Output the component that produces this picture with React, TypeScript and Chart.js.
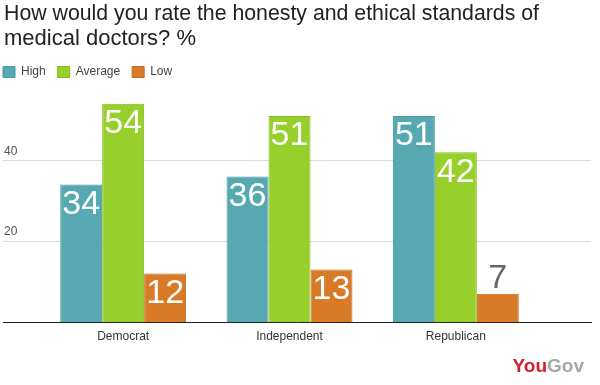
import React, { useEffect, useRef } from "react";
import { Chart, registerables } from "chart.js";

Chart.register(...registerables);

const titleLines = [
  "How would you rate the honesty and ethical standards of",
  "medical doctors? %",
];
const categories = ["Democrat", "Independent", "Republican"];
const seriesNames = ["High", "Average", "Low"];
const highValues = [34, 36, 51];
const averageValues = [54, 51, 42];
const lowValues = [12, 13, 7];
const yTickValues = [20, 40];
const yMax = 57.9;

const FONT = "'Liberation Sans', Arial, sans-serif";

const gridPlugin = {
  id: "fullGrid",
  afterLayout(chart: any) {
    if (chart.legend) chart.legend.left -= 13;
  },
  beforeDatasetsDraw(chart: any) {
    const { ctx } = chart;
    const y = chart.scales.y;
    ctx.save();
    ctx.strokeStyle = "#dcdcdc";
    ctx.lineWidth = 1;
    yTickValues.forEach((v) => {
      const py = Math.round(y.getPixelForValue(v)) + 0.5;
      ctx.beginPath();
      ctx.moveTo(3, py);
      ctx.lineTo(591, py);
      ctx.stroke();
    });
    ctx.restore();
  },
  afterDatasetsDraw(chart: any) {
    const { ctx } = chart;
    const y = chart.scales.y;
    const py = Math.round(y.getPixelForValue(0)) + 0.5;
    ctx.save();
    ctx.strokeStyle = "#222";
    ctx.lineWidth = 1;
    ctx.beginPath();
    ctx.moveTo(3, py);
    ctx.lineTo(592, py);
    ctx.stroke();

    // value labels
    ctx.font = `34px ${FONT}`;
    ctx.textAlign = "center";
    ctx.textBaseline = "alphabetic";
    chart.data.datasets.forEach((ds: any, di: number) => {
      const meta = chart.getDatasetMeta(di);
      meta.data.forEach((bar: any, i: number) => {
        const v = ds.data[i];
        const h = bar.base - bar.y;
        if (h >= 40) {
          ctx.fillStyle = "#ffffff";
          ctx.fillText(String(v), bar.x, bar.y + 29.5);
        } else {
          ctx.fillStyle = "#666666";
          ctx.fillText(String(v), bar.x, bar.y - 6);
        }
      });
    });
    ctx.restore();
  },
  afterDraw(chart: any) {
    const { ctx } = chart;
    ctx.save();
    ctx.font = `bold 19px ${FONT}`;
    ctx.textBaseline = "alphabetic";
    ctx.textAlign = "left";
    const wYou = ctx.measureText("You").width;
    const wGov = ctx.measureText("Gov").width;
    const right = 584;
    const x0 = right - wYou - wGov;
    ctx.fillStyle = "#d0202e";
    ctx.fillText("You", x0, 372);
    ctx.fillStyle = "#a8a8a8";
    ctx.fillText("Gov", x0 + wYou, 372);
    ctx.restore();
  },
};

export default function App() {
  const ref = useRef<HTMLCanvasElement | null>(null);
  useEffect(() => {
    if (!ref.current) return;
    Chart.defaults.font.family = FONT;
    const chart = new Chart(ref.current, {
      type: "bar",
      data: {
        labels: categories,
        datasets: [
          {
            label: seriesNames[0],
            data: highValues,
            backgroundColor: "#56a9b1",
            borderColor: "#4a969d",
            borderWidth: 1,
          },
          {
            label: seriesNames[1],
            data: averageValues,
            backgroundColor: "#97d02a",
            borderColor: "#84b824",
            borderWidth: 1,
          },
          {
            label: seriesNames[2],
            data: lowValues,
            backgroundColor: "#d97a27",
            borderColor: "#be6a20",
            borderWidth: 1,
          },
        ],
      },
      options: {
        responsive: false,
        animation: false,
        maintainAspectRatio: false,
        layout: { padding: { left: 4, right: 61, top: 0, bottom: 33 } },
        datasets: {
          bar: { barPercentage: 1, categoryPercentage: 0.757 },
        },
        plugins: {
          title: {
            display: true,
            text: titleLines,
            align: "start",
            color: "#222",
            font: { size: 22, weight: "normal", family: FONT, lineHeight: 1.16 },
            padding: { top: 1, bottom: 2 },
          },
          legend: {
            display: true,
            align: "start",
            labels: {
              boxWidth: 12,
              boxHeight: 11,
              padding: 12,
              color: "#444",
              font: { size: 12, family: FONT },
            },
          },
          tooltip: { enabled: false },
        },
        scales: {
          x: {
            grid: { display: false, drawTicks: false },
            border: { display: false },
            ticks: { color: "#333", font: { size: 12, family: FONT }, padding: 7 },
            afterFit(scale: any) {
              scale.height = 30;
            },
          },
          y: {
            min: 0,
            max: yMax,
            grid: { display: false, drawTicks: false },
            border: { display: false },
            ticks: {
              color: "#555",
              font: { size: 12, family: FONT },
              labelOffset: -9,
              crossAlign: "far",
              padding: 0,
            },
            afterBuildTicks(scale: any) {
              scale.ticks = yTickValues.map((v) => ({ value: v }));
            },
            afterFit(scale: any) {
              scale.width = 36;
            },
          },
        },
      },
      plugins: [gridPlugin],
    } as any);
    return () => chart.destroy();
  }, []);
  return (
    <div style={{ position: "fixed", left: 0, top: 0, width: 600, height: 385, background: "#fff" }}>
      <canvas ref={ref} width={600} height={385} style={{ display: "block" }} />
    </div>
  );
}
